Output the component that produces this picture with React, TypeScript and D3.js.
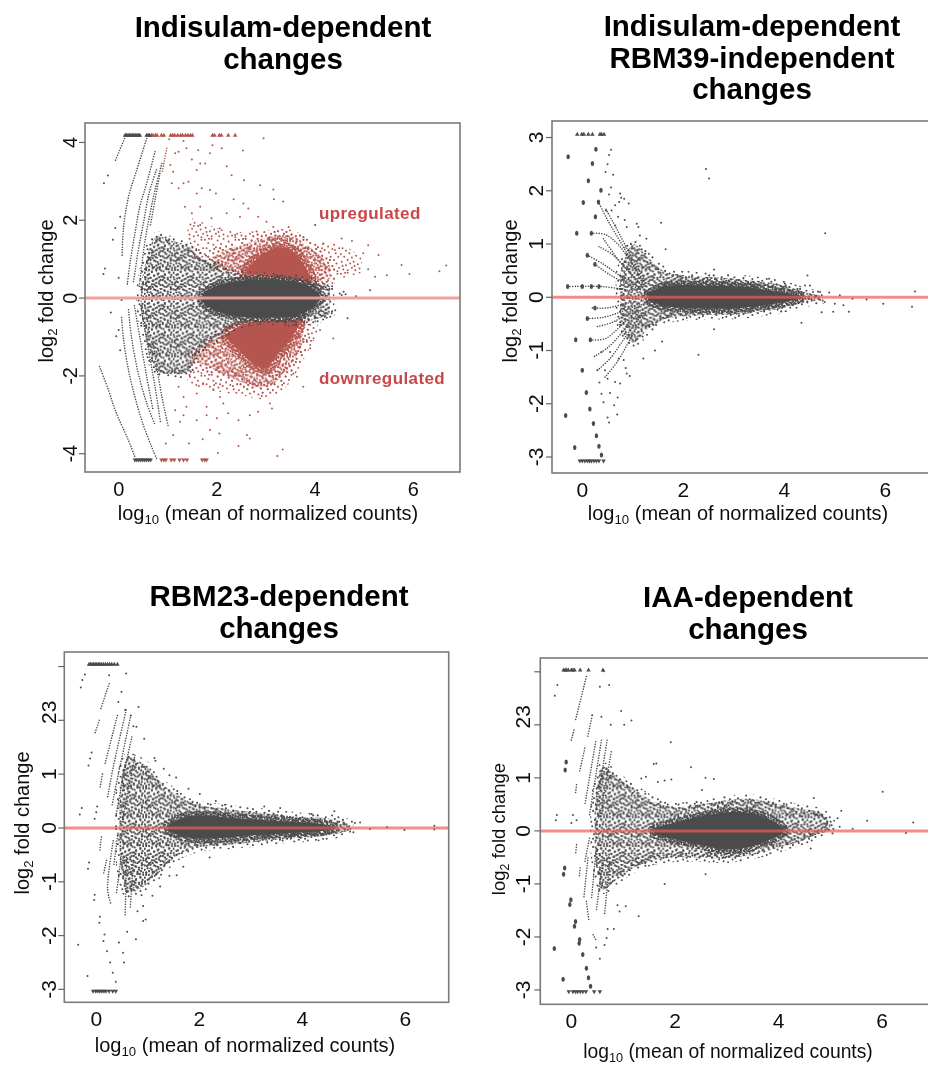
import { line, area, scaleLinear, symbol, symbolTriangle, curveCatmullRom } from "d3";

type Pt = [number, number];
type Row = [number, number, number]; // x, lowest y, highest y of a dense band

const WIDTH = 928;
const HEIGHT = 1065;
const DARK = "#4b4b4b";
const RED = "#b4564f";

// The clouds are far too dense to read dot by dot, so
// their outline is kept as bands and only the stray dots and streaks are listed.

// --- Indisulam-dependent ---
const aCore: Row[] = [[1.7, -0.1, 0.1], [2, -0.34, 0.32], [2.6, -0.5, 0.46], [3, -0.5, 0.48], [3.5, -0.48, 0.44], [3.8, -0.36, 0.34], [4, -0.16, 0.2], [4.1, -0.05, 0.06]];
const aSpeckle: Row[] = [[0.45, -0.3, 0.3], [0.65, -1.5, 1.35], [0.8, -1.9, 1.6], [1, -1.95, 1.5], [1.4, -1.9, 1.35], [1.6, -1.4, 1.1], [2, -1, 0.85], [2.4, -0.72, 0.62], [2.8, -0.58, 0.56], [3.6, -0.62, 0.5], [4, -0.55, 0.4], [4.3, -0.4, 0.3]];
const aRedUpSparse: Row[] = [[1.4, 1.3, 2.1], [1.6, 0.98, 2], [2, 0.82, 1.8], [2.5, 0.6, 1.7], [3, 0.55, 1.75], [3.5, 0.5, 1.75], [4, 0.42, 1.45], [4.5, 0.5, 1.4], [4.95, 0.65, 1.05]];
const aRedUpMid: Row[] = [[1.9, 0.85, 1.05], [2.2, 0.7, 1.25], [2.6, 0.55, 1.4], [3, 0.55, 1.55], [3.5, 0.5, 1.6], [4, 0.42, 1.2], [4.3, 0.5, 0.85]];
const aRedUpDense: Row[] = [[2.6, 0.6, 0.7], [2.8, 0.58, 1], [3, 0.56, 1.18], [3.3, 0.54, 1.3], [3.55, 0.52, 1.2], [3.75, 0.48, 0.9], [3.9, 0.44, 0.55]];
const aRedDownSparse: Row[] = [[1.4, -2.2, -1.75], [1.6, -2.3, -1.4], [2, -2.4, -1.02], [2.5, -2.5, -0.72], [3, -2.6, -0.56], [3.4, -2.3, -0.56], [3.8, -1.5, -0.6], [4.05, -0.9, -0.55]];
const aRedDownMid: Row[] = [[1.5, -1.6, -1.45], [1.8, -1.75, -1.15], [2.2, -2, -0.9], [2.6, -2.2, -0.65], [3, -2.3, -0.56], [3.4, -1.9, -0.56], [3.75, -1.2, -0.6]];
const aRedDownDense: Row[] = [[2.2, -1.05, -0.92], [2.4, -1.25, -0.76], [2.7, -1.65, -0.62], [3, -1.8, -0.58], [3.2, -1.5, -0.58], [3.5, -1.05, -0.58], [3.68, -0.7, -0.54]];
const aStreaks: Pt[][] = [
  [[0.12, 4.1], [-0.08, 3.5]],
  [[0.57, 4.1], [0.37, 3.3], [0.2, 2.6], [0.1, 1.83], [0.07, 1.1]],
  [[0.74, 3.76], [0.57, 2.95], [0.43, 2.35], [0.33, 1.66], [0.23, 0.89], [0.17, 0.3]],
  [[0.77, 3.3], [0.62, 2.7], [0.5, 1.9], [0.4, 1.23], [0.3, 0.4]],
  [[0.88, 3.46], [0.74, 2.78], [0.64, 2.18], [0.54, 1.5], [0.42, 0.3]],
  [[0.84, 3.2], [0.74, 2.52], [0.64, 1.83]],
  [[-0.39, -1.76], [-0.21, -2.36], [-0.1, -2.78], [0, -3.1], [0.18, -3.6], [0.33, -4.08]],
  [[0.06, -0.5], [0.1, -1.08], [0.2, -1.85], [0.33, -2.54], [0.5, -3.26], [0.67, -3.82], [0.77, -4.12]],
  [[0.2, -0.3], [0.26, -1], [0.4, -1.94], [0.57, -2.7], [0.74, -3.26]],
  [[0.32, -0.2], [0.43, -1], [0.57, -2.02], [0.7, -2.88]],
  [[0.45, -0.2], [0.57, -1.08], [0.74, -2.28], [0.85, -3.18]],
  [[0.7, -1.17], [0.88, -2.54], [1.01, -3.3]],
];
const aRedStreaks: Pt[][] = [[[0.98, 3.85], [0.88, 3.2]]];
const aGrayDots: Pt[] = [[-0.3, 2.95], [-0.22, 3.15], [-0.28, 0.76], [-0.31, 0.62], [0, 0.52], [0.06, -0.05], [-0.16, -0.37], [0, -0.82], [-0.05, -0.98], [0.03, -1.34], [-0.07, 1.8], [-0.12, 1.5], [0.03, 2.09], [4, 1.88], [5.12, 0.2], [4.83, 0.05], [4.58, 0.16], [4.54, 0.08], [4.41, -0.31], [4.34, -0.39], [4.66, -0.52], [4.2, -0.48], [4.17, -0.35], [4.5, 0.12], [4.62, 0.1]];
const aRedDots: Pt[] = [[2.95, 4.11], [1.32, 4.04], [1.03, 4.08], [1.91, 3.93], [1.38, 3.85], [1.22, 3.76], [1.62, 3.8], [1.86, 3.72], [2.1, 3.85], [2.53, 3.79], [1.15, 3.72], [1.05, 3.42], [1.11, 3.25], [1.49, 3.56], [1.66, 3.46], [1.76, 3.46], [1.59, 3.29], [2.2, 3.39], [2.3, 3.16], [2.55, 3.03], [2.88, 2.9], [3.15, 2.79], [3.16, 2.54], [3.35, 2.48], [1.42, 2.99], [1.32, 2.95], [1.22, 2.82], [1.08, 2.95], [1.69, 2.82], [1.86, 2.78], [1.98, 2.69], [1.59, 2.69], [2.34, 2.54], [2.54, 2.43], [2.64, 2.3], [1.35, 2.35], [1.66, 2.35], [1.49, 2.18], [1.89, 2.05], [2.2, 2.18], [2.47, 2.09], [2.84, 2.09], [3.01, 1.96], [3.15, 1.83], [3.46, 1.83], [2.06, 1.79], [1.66, 1.88], [2.37, 1.62], [2.81, 1.71], [4.17, 1.4], [4.54, 1.53], [4.75, 1.47], [5.08, 1.36], [5.29, 1.11], [4.98, 1.15], [5.08, 0.74], [5.22, 0.55], [5.46, 0.59], [5.76, 0.85], [5.92, 0.62], [6.53, 0.69], [6.67, 0.84], [4.37, -1.04], [3.23, -4.06], [3.34, -3.89], [2.02, -3.98], [2.44, -3.8], [2.61, -3.52], [2.67, -3.61], [2.05, -3.48], [1.86, -3.39], [1.71, -3.63], [1.43, -3.74], [0.96, -3.74], [1.11, -3.52], [1.25, -3.18], [1.32, -3.01], [1.15, -2.88], [1.59, -3.14], [1.79, -3.01], [2, -3.09], [2.23, -2.96], [2.44, -3.14], [2.67, -3.01], [2.84, -2.92], [3.12, -2.84], [3.08, -2.71], [3.63, -2.02], [3.76, -2.28], [3.56, -1.94], [3.9, -1.29], [4.1, -0.82], [1.32, -2.54], [1.59, -2.45], [1.79, -2.79], [2.13, -2.71], [1.38, -2.79], [1.22, -2.28], [1.45, -2.02], [1.72, -2.19], [1.93, -2.36], [2.06, -2.54], [3.83, -1.08]];
const aTopGray = [0.13, 0.16, 0.19, 0.22, 0.25, 0.28, 0.31, 0.34, 0.37, 0.4, 0.43, 0.57, 0.6, 0.63];
const aTopRed = [0.67, 0.7, 0.75, 0.78, 0.87, 0.92, 1.06, 1.1, 1.14, 1.2, 1.26, 1.3, 1.36, 1.41, 1.46, 1.5, 1.91, 1.95, 2.05, 2.09, 2.23, 2.37];
const aBottomGray = [0.33, 0.37, 0.41, 0.45, 0.49, 0.53, 0.57, 0.61, 0.65];
const aBottomRed = [0.87, 0.92, 0.96, 1.07, 1.13, 1.24, 1.32, 1.39, 1.7, 1.75, 1.79];

// --- Indisulam-dependent RBM39-independent ---
const bCore: Row[] = [[1.3, -0.06, 0.06], [1.6, -0.16, 0.2], [2, -0.2, 0.23], [2.5, -0.21, 0.22], [3, -0.21, 0.21], [3.5, -0.16, 0.16], [4, -0.09, 0.08], [4.3, -0.03, 0.03]];
const bSpeckle: Row[] = [[0.75, -0.45, 0.45], [1, -0.85, 1], [1.3, -0.6, 0.75], [1.6, -0.42, 0.5], [2, -0.36, 0.42], [2.5, -0.33, 0.38], [3, -0.33, 0.35], [3.5, -0.28, 0.3], [4, -0.2, 0.22], [4.4, -0.1, 0.1], [4.7, -0.05, 0.04]];
const bStreaks: Pt[][] = [
  [[-0.29, 0.2], [0.4, 0.2], [1, 0.12]],
  [[0.25, 0.62], [0.55, 0.42], [0.85, 0.27], [1.15, 0.14]],
  [[0.1, 0.79], [0.42, 0.62], [0.75, 0.4], [1.15, 0.18]],
  [[0.18, 1.2], [0.45, 1.18], [0.7, 1], [1, 0.6], [1.2, 0.25]],
  [[0.33, 0.95], [0.6, 0.8], [0.9, 0.5], [1.2, 0.2]],
  [[0.32, 1.79], [0.5, 1.45], [0.75, 1.05], [1.05, 0.55], [1.25, 0.25]],
  [[0.47, 1.65], [0.7, 1.25], [0.95, 0.8], [1.25, 0.3]],
  [[0.42, 1.1], [0.7, 0.72], [1, 0.4], [1.2, 0.2]],
  [[0.2, -0.2], [0.5, -0.2], [0.85, -0.12], [1.1, -0.08]],
  [[0.1, -0.4], [0.4, -0.38], [0.75, -0.28], [1.15, -0.12]],
  [[0.3, -0.55], [0.6, -0.47], [0.9, -0.3], [1.2, -0.12]],
  [[0.16, -0.8], [0.45, -0.78], [0.75, -0.55], [1.1, -0.22]],
  [[0.24, -1.11], [0.5, -0.95], [0.8, -0.65], [1.15, -0.25]],
  [[0.3, -1.37], [0.55, -1.15], [0.85, -0.75], [1.2, -0.3]],
  [[0.45, -1.5], [0.7, -1.2], [1, -0.7], [1.25, -0.3]],
];
const bBlobs: Pt[] = [[-0.28, 2.64], [0.12, 2.19], [0.02, 1.78], [-0.11, 1.2], [0.18, 1.2], [-0.29, 0.2], [0, 0.2], [0.18, 0.2], [0.33, 0.2], [-0.33, -2.22], [-0.15, -2.82], [-0.13, -0.8], [0.16, -0.8], [0, -1.37], [0.08, -1.79], [0.15, -2.1], [0.22, -2.37], [0.28, -2.6], [0.33, -2.8], [0.38, -2.96], [0.27, 2.78], [0.2, 2.51], [0.37, 2.01], [0.32, 1.79], [0.26, 1.51], [0.1, 0.79], [0.25, 0.62], [0.1, -0.4], [0.25, -0.2]];
const bDots: Pt[] = [[2.45, 2.41], [2.51, 2.23], [1.56, 1.4], [4.81, 1.2], [2.3, -1.08], [4.46, 0.41], [1.65, 0.9], [2.61, 0.52], [4.34, -0.48], [2.61, -0.6], [1.58, -0.83], [1.44, -1], [1.21, -1.15], [6.59, 0.11], [6.53, -0.18], [5.96, -0.12], [5.63, -0.04], [5.35, -0.03], [5.28, -0.27], [5.1, 0.04], [5.17, -0.15], [4.97, -0.27], [4.89, 0.09], [4.74, -0.28], [4.71, 0.1], [4.51, 0.22], [4.41, 0.22], [4.57, 0.1], [4.8, -0.09], [5, -0.12], [4.01, 0.26], [3.7, 0.35], [0.57, 2.77], [0.53, 2.67], [0.5, 2.5], [0.46, 2.35], [0.61, 2.3], [0.57, 2.06], [0.53, 1.93], [0.75, 1.95], [0.77, 1.87], [0.83, 1.85], [0.92, 1.76], [0.73, 1.79], [0.65, 1.73], [0.58, 1.63], [0.47, 1.63], [0.84, 1.45], [1.08, 1.38], [1.11, 1.32], [0.71, 1.51], [0.65, 1.35], [1.14, 1.16], [1.27, 1.1], [0.88, 1.32], [0.69, -2.2], [0.5, -2.26], [0.53, -2.35], [0.63, -2.03], [0.7, -1.88], [0.42, -1.97], [0.38, -1.81], [0.55, -1.8], [0.34, -1.6], [0.5, -1.53], [0.65, -1.59], [0.75, -1.62], [0.94, -1.48], [0.88, -1.43], [0.3, -1.37], [0.45, -1.37], [0.38, -1.03], [0.55, -1.03], [0.72, -1.15], [0.86, -1.33], [0.82, -1.18]];
const bTop = [-0.1, -0.01, 0.03, 0.12, 0.2, 0.35, 0.38, 0.43];
const bBottom = [-0.05, 0, 0.05, 0.1, 0.14, 0.18, 0.23, 0.28, 0.33, 0.42];

// --- RBM23-dependent ---
const cCore: Row[] = [[1.4, -0.05, 0.06], [1.7, -0.16, 0.2], [2, -0.2, 0.23], [2.5, -0.18, 0.2], [3, -0.14, 0.16], [3.5, -0.11, 0.13], [4, -0.08, 0.1], [4.4, -0.05, 0.07], [4.6, -0.02, 0.02]];
const cSpeckle: Row[] = [[0.45, -0.3, 0.25], [0.6, -1.2, 1.3], [0.9, -1.1, 1.2], [1.1, -0.95, 1], [1.3, -0.75, 0.8], [1.6, -0.5, 0.6], [2, -0.36, 0.42], [2.5, -0.32, 0.36], [3, -0.27, 0.3], [3.5, -0.22, 0.25], [4, -0.18, 0.2], [4.5, -0.14, 0.18], [4.9, -0.05, 0.08]];
const cStreaks: Pt[][] = [
  [[0.25, 2.68], [0.08, 2.19]], [[0.06, 2], [-0.03, 1.75]],
  [[0.41, 2.09], [0.17, 1.19]], [[0.12, 1], [0.07, 0.73]],
  [[0.58, 2.19], [0.33, 1.13], [0.22, 0.57]],
  [[0.67, 2.09], [0.43, 1], [0.3, 0.39]],
  [[0.69, 1.69], [0.52, 0.94], [0.38, 0.2]],
  [[0.75, 1.35], [0.58, 0.5], [0.5, 0.1]],
  [[0.1, -0.17], [0.07, -0.42]], [[0.2, -0.6], [0.14, -0.86]],
  [[0.33, -0.24], [0.22, -1.14], [0.28, -1.4]],
  [[0.49, -0.48], [0.39, -1.23]],
  [[0.59, -0.55], [0.56, -1.66]],
  [[0.42, -0.1], [0.34, -0.7]],
  [[0.72, -0.6], [0.66, -1.5]],
];
const cDots: Pt[] = [[6.56, 0.04], [6.56, -0.03], [5.98, -0.04], [5.64, 0.02], [5.31, -0.02], [5.12, 0.1], [5.02, 0.09], [4.99, -0.08], [4.62, 0.31], [4.8, 0.1], [4.93, -0.02], [4.18, 0.26], [3.57, 0.37], [3.26, 0.4], [2.32, 0.5], [2.5, 0.43], [2.2, -0.55], [1.56, -0.88], [1.24, -1.09], [1.09, -1.26], [1.42, -0.89], [1.69, -0.72], [1.79, 0.73], [2.01, 0.63], [1.31, 1.1], [1.13, 1.3], [1.15, 1.25], [1.42, 0.98], [1.55, 0.94], [0.93, 1.66], [0.82, 2.25], [0.78, 1.88], [0.72, 1.89], [0.67, 2.09], [0.58, 2.87], [0.56, 2.19], [0.25, 2.84], [-0.22, 2.85], [-0.27, 2.75], [-0.3, 2.61], [-0.09, 1.4], [-0.12, 1.29], [-0.15, 1.16], [-0.28, 0.37], [-0.32, 0.25], [0.02, 0.4], [0, 0.29], [-0.03, 0.17], [-0.35, -2.17], [-0.17, -2.75], [-0.14, -0.64], [-0.16, -0.76], [-0.03, -1.24], [-0.04, -1.34], [0.07, -1.65], [0.06, -1.76], [0.16, -1.98], [0.14, -2.1], [0.21, -2.29], [0.27, -2.5], [0.32, -2.69], [0.38, -2.86], [0.52, -2.32], [0.54, -2.5], [0.44, -2.13], [0.77, -2.07], [0.6, -1.93], [0.91, -1.73], [0.96, -1.7], [0.91, -1.45], [0.49, 2.53], [0.43, 2.34], [0.8, -1.55], [0.88, -1.25]];
const cTop = [-0.14, -0.11, -0.08, -0.05, -0.02, 0.01, 0.04, 0.07, 0.1, 0.14, 0.18, 0.22, 0.26, 0.3, 0.35, 0.41];
const cBottom = [-0.06, -0.01, 0.03, 0.07, 0.11, 0.15, 0.19, 0.25, 0.32, 0.38];

// --- IAA-dependent ---
const dCore: Row[] = [[1.6, -0.06, 0.06], [2, -0.16, 0.16], [2.5, -0.27, 0.27], [3, -0.35, 0.35], [3.5, -0.29, 0.33], [3.9, -0.14, 0.18], [4.1, -0.03, 0.05]];
const dSpeckle: Row[] = [[0.45, -0.3, 0.3], [0.6, -1.1, 1.2], [0.9, -0.9, 1], [1.2, -0.7, 0.8], [1.6, -0.55, 0.55], [2, -0.5, 0.45], [2.5, -0.5, 0.5], [3, -0.52, 0.58], [3.5, -0.45, 0.6], [4, -0.32, 0.5], [4.4, -0.2, 0.42], [4.8, -0.05, 0.35], [5, 0, 0.2]];
const dStreaks: Pt[][] = [
  [[0.29, 2.91], [0.08, 2.09]], [[0.05, 1.9], [-0.01, 1.68]],
  [[0.39, 2.12], [0.31, 1.75]], [[0.26, 1.56], [0.16, 1.12]],
  [[0.1, 0.87], [0.08, 0.71]],
  [[0.47, 1.68], [0.26, 0.49]], [[0.58, 1.71], [0.35, 0.3]],
  [[0.69, 1.71], [0.47, 0.36]], [[0.77, 1.49], [0.55, 0.24]],
  [[0.1, -0.26], [0.08, -0.45]], [[0.17, -0.7], [0.15, -0.89]],
  [[0.35, -0.14], [0.26, -0.58]], [[0.32, -0.51], [0.24, -1.27]],
  [[0.48, -0.33], [0.39, -1.27]], [[0.61, -0.51], [0.48, -1.52]],
  [[0.74, -0.58], [0.64, -1.58]], [[0.29, -1.33], [0.34, -1.71]],
  [[0.42, -1.96], [0.47, -2.05]],
];
const dBlobs: Pt[] = [[-0.33, -2.22], [-0.16, -2.8], [-0.13, -0.7], [-0.15, -0.82], [-0.01, -1.3], [-0.03, -1.39], [0.08, -1.71], [0.06, -1.8], [0.16, -2.05], [0.15, -2.12], [0.22, -2.33], [0.29, -2.59], [0.33, -2.77], [0.37, -2.93], [-0.12, 1.15], [-0.1, 1.3]];
const dDots: Pt[] = [[6.01, 0.74], [6.6, 0.16], [6.46, -0.04], [5.71, 0.19], [5.43, 0.04], [5.21, 0.38], [5.14, 0.24], [5.18, 0.08], [4.92, 0.25], [4.68, 0.62], [4.62, -0.33], [4.39, -0.23], [1.92, 1.67], [2.31, 1.2], [2.59, 1], [2.75, 0.98], [2.52, 0.77], [1.64, 1.27], [1.59, 1.26], [1.93, 0.97], [1.8, 0.95], [1.67, 0.92], [1.44, 1.02], [1.35, 0.99], [2.59, -0.82], [1.8, -1], [1.3, -1.61], [0.96, 2.26], [1.16, 2.08], [1.02, 2], [0.76, 2], [0.58, 2.15], [0.4, 2.18], [0.73, 2.75], [0.55, 2.72], [0.62, 3.01], [-0.32, 2.55], [-0.27, 2.75], [-0.3, 0.2], [-0.28, 0.3], [0, 0.15], [0.03, 0.3], [0.1, 0.2], [0.48, -2.2], [0.55, -2.41], [0.64, -2.15], [0.68, -2.02], [0.7, -1.85], [0.82, -1.85], [0.93, -1.52], [0.89, -1.4], [1.05, -1.42]];
const dTop = [-0.15, -0.12, -0.09, -0.06, 0, 0.03, 0.06, 0.17, 0.33, 0.61];
const dBottom = [-0.05, 0.03, 0.08, 0.12, 0.17, 0.22, 0.28, 0.44, 0.55];

const xTicks = [0, 2, 4, 6];
const aYTicks = [-4, -2, 0, 2, 4];
const bYTicks = [-3, -2, -1, 0, 1, 2, 3];
const lowerLabels = [-3, -2, -1, 0, 1];

// hand placed dots of the speckle tile, drawn twice (second copy mirrored)
const tile: Pt[] = [[1, 2], [5, 6], [9, 1], [11, 8], [16, 3], [14, 11], [20, 7], [23, 1], [26, 10], [29, 4], [33, 8], [37, 2], [39, 12], [3, 12], [7, 15], [1, 19], [11, 18], [17, 16], [22, 14], [27, 17], [31, 13], [35, 18], [38, 22], [5, 22], [9, 26], [14, 23], [19, 21], [24, 24], [29, 22], [33, 26], [2, 28], [7, 32], [12, 30], [16, 28], [21, 31], [26, 29], [31, 33], [36, 30], [39, 35], [4, 37], [9, 38], [14, 35], [18, 38], [23, 36], [28, 38], [33, 37], [37, 39], [6, 1], [19, 12], [34, 14], [12, 13], [28, 26], [17, 33], [3, 33]];

function Speckle({ id, color, zoom, r, single }: { id: string; color: string; zoom: number; r: number; single?: boolean }) {
  return (
    <pattern id={id} width={40} height={40} patternUnits="userSpaceOnUse" patternTransform={`scale(${zoom})`}>
      {tile.map((d, i) => (
        <circle key={i} cx={d[0]} cy={d[1]} r={r} fill={color} />
      ))}
      {!single && tile.map((d, i) => (
        <circle key={`m${i}`} cx={40 - d[0]} cy={(d[1] + 13) % 40} r={r} fill={color} />
      ))}
    </pattern>
  );
}

type PanelProps = {
  id: string;
  title: string[];
  titleX: number;
  titleY: number;
  box: [number, number, number, number]; // left, top, right, bottom
  xDomain: Pt;
  yDomain: Pt;
  yTicks: number[];
  yLabels: number[];
  extraLabel?: boolean;
  tickSize: number;
  labelSize: number;
  ylabSize: number;
  labelGap: number;
  labelX: number;
  labelY: number;
  ylabX: number;
  ylabY: number;
  lineColor: string;
  lineOpacity: number;
  core: Row[];
  speckle: Row[];
  streaks: Pt[][];
  dots: Pt[];
  blobs?: Pt[];
  top: number[];
  bottom: number[];
  topY: number;
  bottomY: number;
  children?: any;
};

function Panel(p: PanelProps) {
  const [l, t, r, b] = p.box;
  const x = scaleLinear().domain(p.xDomain).range([l, r]);
  const y = scaleLinear().domain(p.yDomain).range([b, t]);
  const band = area<Row>().x((d) => x(d[0])).y0((d) => y(d[1])).y1((d) => y(d[2])).curve(curveCatmullRom);
  const streak = line<Pt>().x((d) => x(d[0])).y((d) => y(d[1])).curve(curveCatmullRom);
  const up = symbol(symbolTriangle, 9)();
  return (
    <g>
      <text textAnchor="middle" fontSize={29.5} fontWeight="bold" fill="#000">
        {p.title.map((s, i) => (
          <tspan key={i} x={p.titleX} y={p.titleY + i * 31.5}>{s}</tspan>
        ))}
      </text>
      <clipPath id={p.id}>
        <rect x={l} y={t} width={r - l} height={b - t} />
      </clipPath>
      <g clipPath={`url(#${p.id})`}>
        {p.children && p.children({ x, y, band })}
        <path d={band(p.speckle) ?? ""} fill="url(#grayDense)" stroke="url(#graySparse)" strokeWidth={9} />
        <path d={band(p.core) ?? ""} fill={DARK} stroke="url(#grayTight)" strokeWidth={9} />
        {p.streaks.map((s, i) => (
          <path key={i} d={streak(s) ?? ""} fill="none" stroke={DARK} strokeWidth={1.6} strokeLinecap="round" strokeDasharray="0 2.6" />
        ))}
        {p.dots.map((d, i) => (
          <circle key={i} cx={x(d[0])} cy={y(d[1])} r={1} fill={DARK} />
        ))}
        {(p.blobs ?? []).map((d, i) => (
          <ellipse key={i} cx={x(d[0])} cy={y(d[1])} rx={1.7} ry={2.5} fill={DARK} />
        ))}
        {p.top.map((v, i) => (
          <path key={i} d={up ?? ""} transform={`translate(${x(v)},${y(p.topY)})`} fill={DARK} />
        ))}
        {p.bottom.map((v, i) => (
          <path key={i} d={up ?? ""} transform={`translate(${x(v)},${y(p.bottomY)}) scale(1,-1)`} fill={DARK} />
        ))}
        <line x1={l} x2={r} y1={y(0)} y2={y(0)} stroke={p.lineColor} strokeOpacity={p.lineOpacity} strokeWidth={3} />
      </g>
      <rect x={l} y={t} width={r - l} height={b - t} fill="none" stroke="#7a7a7a" strokeWidth={1.6} />
      {p.yTicks.map((v) => (
        <line key={v} x1={l - 6} x2={l} y1={y(v)} y2={y(v)} stroke="#666" strokeWidth={1.2} />
      ))}
      {xTicks.map((v) => (
        <text key={v} x={x(v)} y={b + 24} textAnchor="middle" fontSize={p.tickSize} fill="#111">{v}</text>
      ))}
      {p.yLabels.map((v) => (
        <text key={v} transform={`translate(${l - p.labelGap},${y(v)}) rotate(-90)`} textAnchor="middle" fontSize={p.tickSize} fill="#111">{v}</text>
      ))}
      {p.extraLabel && (
        <text transform={`translate(${l - p.labelGap},${y(2.15)}) rotate(-90)`} textAnchor="middle" fontSize={p.tickSize} fill="#111">23</text>
      )}
      <text x={p.labelX} y={p.labelY} textAnchor="middle" fontSize={p.labelSize} fill="#111">
        log<tspan fontSize={p.labelSize * 0.66} dy={4}>10</tspan><tspan dy={-4}> (mean of normalized counts)</tspan>
      </text>
      <text transform={`translate(${p.ylabX},${p.ylabY}) rotate(-90)`} textAnchor="middle" fontSize={p.ylabSize} fill="#111">
        log<tspan fontSize={p.ylabSize * 0.66} dy={4}>2</tspan><tspan dy={-4}> fold change</tspan>
      </text>
    </g>
  );
}

export default function App() {
  const triangle = symbol(symbolTriangle, 9)();
  return (
    <svg width={WIDTH} height={HEIGHT} style={{ position: "absolute", left: 0, top: 0, background: "#fff" }} fontFamily="'Liberation Sans', Arial, sans-serif">
      <defs>
        <Speckle id="grayDense" color={DARK} zoom={0.72} r={1.6} />
        <Speckle id="graySparse" color={DARK} zoom={0.9} r={1.15} single />
        <Speckle id="grayTight" color={DARK} zoom={0.55} r={2} />
        <Speckle id="redSparse" color={RED} zoom={0.85} r={1.15} single />
        <Speckle id="redMid" color={RED} zoom={0.72} r={1.55} />
        <Speckle id="redTight" color={RED} zoom={0.55} r={2} />
        <filter id="soft" x="0" y="0" width={WIDTH} height={HEIGHT} filterUnits="userSpaceOnUse">
          <feGaussianBlur stdDeviation={0.4} />
        </filter>
      </defs>
      <g filter="url(#soft)">
        <Panel id="pa" title={["Indisulam-dependent", "changes"]} titleX={283} titleY={37} box={[85, 123, 460, 472]} xDomain={[-0.686, 6.95]} yDomain={[-4.47, 4.5]} yTicks={aYTicks} yLabels={aYTicks} extraLabel={false} tickSize={20} labelSize={20} ylabSize={20} labelGap={8} labelX={268} labelY={520} ylabX={53} ylabY={291} lineColor="#f09c9a" lineOpacity={0.95}
          core={aCore} speckle={aSpeckle} streaks={aStreaks} dots={aGrayDots} top={aTopGray} bottom={aBottomGray} topY={4.18} bottomY={-4.16}>
          {({ x, y, band }: any) => (
            <g>
              {[aRedUpSparse, aRedDownSparse].map((rows, i) => (
                <path key={i} d={band(rows)} fill="url(#redSparse)" />
              ))}
              {[aRedUpMid, aRedDownMid].map((rows, i) => (
                <path key={i} d={band(rows)} fill="url(#redMid)" stroke="url(#redSparse)" strokeWidth={12} />
              ))}
              {[aRedUpDense, aRedDownDense].map((rows, i) => (
                <path key={i} d={band(rows)} fill={RED} stroke="url(#redTight)" strokeWidth={12} />
              ))}
              {aRedStreaks.map((s, i) => (
                <path key={i} d={line<Pt>().x((d) => x(d[0])).y((d) => y(d[1]))(s) ?? ""} fill="none" stroke={RED} strokeWidth={1.6} strokeLinecap="round" strokeDasharray="0 2.6" />
              ))}
              {aRedDots.map((d, i) => (
                <circle key={i} cx={x(d[0])} cy={y(d[1])} r={1} fill={RED} />
              ))}
              {aTopRed.map((v, i) => (
                <path key={i} d={triangle ?? ""} transform={`translate(${x(v)},${y(4.18)})`} fill={RED} />
              ))}
              {aBottomRed.map((v, i) => (
                <path key={i} d={triangle ?? ""} transform={`translate(${x(v)},${y(-4.16)}) scale(1,-1)`} fill={RED} />
              ))}
              <text x={319} y={219} fontSize={17} fontWeight="bold" fill="#c8474a" letterSpacing={0.4}>upregulated</text>
              <text x={319} y={384} fontSize={17} fontWeight="bold" fill="#c8474a" letterSpacing={0.4}>downregulated</text>
            </g>
          )}
        </Panel>
        <Panel id="pb" title={["Indisulam-dependent", "RBM39-independent", "changes"]} titleX={752} titleY={36} box={[552, 121, 935, 473]} xDomain={[-0.6, 6.985]} yDomain={[-3.3, 3.31]} yTicks={bYTicks} yLabels={bYTicks} tickSize={21} labelSize={20} ylabSize={20} labelGap={9} labelX={738} labelY={520} ylabX={517} ylabY={291} lineColor="#ee5c58" lineOpacity={0.7}
          core={bCore} speckle={bSpeckle} streaks={bStreaks} dots={bDots} blobs={bBlobs} top={bTop} bottom={bBottom} topY={3.06} bottomY={-3.07} />
        <Panel id="pc" title={["RBM23-dependent", "changes"]} titleX={279} titleY={606} box={[64.3, 652, 448.7, 1002.3]} xDomain={[-0.62, 6.84]} yDomain={[-3.24, 3.27]} yTicks={bYTicks} yLabels={lowerLabels} extraLabel tickSize={21} labelSize={20} ylabSize={20} labelGap={8} labelX={245} labelY={1052} ylabX={29} ylabY={823} lineColor="#ee5c58" lineOpacity={0.7}
          core={cCore} speckle={cSpeckle} streaks={cStreaks} dots={cDots} top={cTop} bottom={cBottom} topY={3.04} bottomY={-3.03} />
        <Panel id="pd" title={["IAA-dependent", "changes"]} titleX={748} titleY={607} box={[540.3, 658, 935, 1004.3]} xDomain={[-0.6, 7.02]} yDomain={[-3.27, 3.26]} yTicks={bYTicks} yLabels={lowerLabels} extraLabel tickSize={21} labelSize={19.3} ylabSize={18.5} labelGap={10} labelX={728} labelY={1058} ylabX={505} ylabY={829} lineColor="#ee5c58" lineOpacity={0.7}
          core={dCore} speckle={dSpeckle} streaks={dStreaks} dots={dDots} blobs={dBlobs} top={dTop} bottom={dBottom} topY={3.03} bottomY={-3.03} />
      </g>
    </svg>
  );
}
